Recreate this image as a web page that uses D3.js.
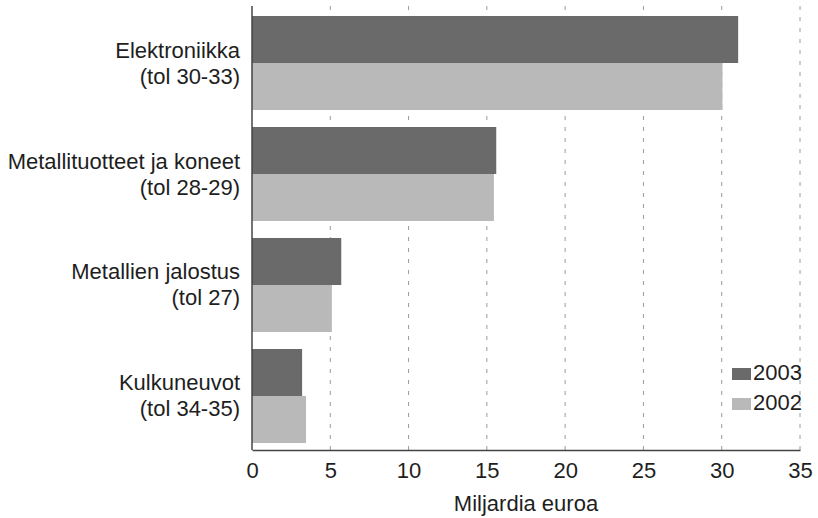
<!DOCTYPE html>
<html>
<head>
<meta charset="utf-8">
<script src="https://cdn.jsdelivr.net/npm/d3@7"></script>
<style>
  body { margin: 0; background: #fff; }
  svg { display: block; font-family: Arial, "Liberation Sans", sans-serif; }
</style>
</head>
<body>
<script>
const categories = ["Elektroniikka|(tol 30-33)", "Metallituotteet ja koneet|(tol 28-29)", "Metallien jalostus|(tol 27)", "Kulkuneuvot|(tol 34-35)"];
const years = ["2003", "2002"];
const values2003 = [31.05, 15.6, 5.7, 3.2];
const values2002 = [30.05, 15.45, 5.1, 3.45];
const xTicks = [0, 5, 10, 15, 20, 25, 30, 35];

const WIDTH = 818;
const HEIGHT = 518;
const FONT_SIZE = 22;
const COLORS = { "2003": "#6a6a6a", "2002": "#b9b9b9" };
const TEXT_COLOR = "#1e1e1e";

const rows = categories.map((c, i) => ({
  category: c,
  values: [
    { year: "2003", value: values2003[i] },
    { year: "2002", value: values2002[i] },
  ],
}));

const svg = d3.select("body").append("svg")
  .attr("width", WIDTH)
  .attr("height", HEIGHT);

const x = d3.scaleLinear().domain([0, 35]).range([252, 800]);

const y = d3.scaleBand()
  .domain(categories)
  .range([9, 450])
  .paddingInner(0.153)
  .paddingOuter(0.063);

const ySub = d3.scaleBand().domain(years).range([0, y.bandwidth()]);

// dashed grid
svg.append("g")
  .selectAll("line")
  .data(xTicks.slice(1))
  .join("line")
  .attr("x1", (d) => x(d))
  .attr("x2", (d) => x(d))
  .attr("y1", 6)
  .attr("y2", 450)
  .attr("stroke", "#9a9a9a")
  .attr("stroke-width", 1)
  .attr("stroke-dasharray", "4,7");

// bars
const groups = svg.append("g")
  .selectAll("g")
  .data(rows)
  .join("g")
  .attr("transform", (d) => `translate(0,${y(d.category)})`);

groups.selectAll("rect")
  .data((d) => d.values)
  .join("rect")
  .attr("x", x(0))
  .attr("y", (d) => ySub(d.year))
  .attr("width", (d) => x(d.value) - x(0))
  .attr("height", ySub.bandwidth())
  .attr("fill", (d) => COLORS[d.year]);

// x axis
const xAxis = svg.append("g")
  .attr("transform", "translate(0,450)")
  .call(d3.axisBottom(x).tickValues(xTicks).tickSize(0).tickPadding(12));
xAxis.select(".domain").attr("stroke", "#444").attr("stroke-width", 1.5);
xAxis.selectAll("text")
  .attr("font-size", FONT_SIZE)
  .attr("fill", TEXT_COLOR)
  .attr("font-family", "Arial, 'Liberation Sans', sans-serif");

// y axis line
svg.append("line")
  .attr("x1", x(0))
  .attr("x2", x(0))
  .attr("y1", 6)
  .attr("y2", 450)
  .attr("stroke", "#444")
  .attr("stroke-width", 1.5);

// category labels, two lines each
svg.append("g")
  .selectAll("text")
  .data(categories)
  .join("text")
  .attr("text-anchor", "end")
  .attr("font-size", FONT_SIZE)
  .attr("fill", TEXT_COLOR)
  .each(function (d) {
    const mid = y(d) + y.bandwidth() / 2;
    d3.select(this)
      .selectAll("tspan")
      .data(d.split("|"))
      .join("tspan")
      .attr("x", 240)
      .attr("y", (t, i) => (i === 0 ? mid - 5.5 : mid + 20.5))
      .text((t) => t);
  });

// axis title
svg.append("text")
  .attr("x", x(17.5))
  .attr("y", 511)
  .attr("text-anchor", "middle")
  .attr("font-size", FONT_SIZE)
  .attr("fill", TEXT_COLOR)
  .text("Miljardia euroa");

// legend
const legend = svg.append("g")
  .selectAll("g")
  .data(years)
  .join("g")
  .attr("transform", (d, i) => `translate(732,${368 + i * 30})`);

legend.append("rect")
  .attr("width", 19)
  .attr("height", 12)
  .attr("fill", (d) => COLORS[d]);

legend.append("text")
  .attr("x", 21)
  .attr("y", 12)
  .attr("font-size", FONT_SIZE)
  .attr("fill", TEXT_COLOR)
  .text((d) => d);
</script>
</body>
</html>
